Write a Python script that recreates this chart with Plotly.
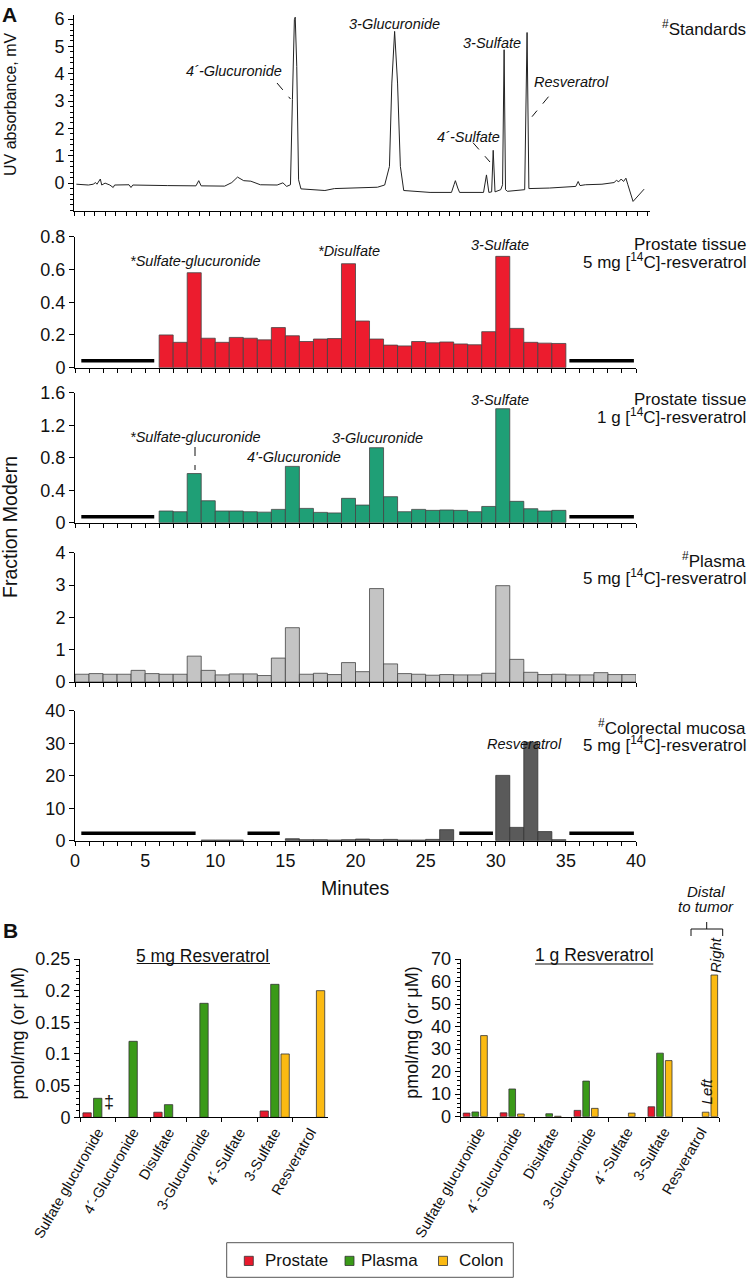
import plotly.graph_objects as go

W, H = 749, 1280
def px(x): return x / W
def py(y): return 1 - y / H

FONT = "Liberation Sans, Arial, sans-serif"

# ---------------- Panel A data ----------------
# UV chromatogram of standards (time units, mV)
uv_time = [0.17, 1.03, 1.37, 1.54, 1.64, 1.88, 1.98, 2.22, 2.56, 2.80, 2.90, 3.93, 4.07, 4.20,
           6.66, 8.71, 8.91, 9.08, 10.76, 11.27, 11.68, 12.12, 12.63, 13.31, 14.51, 14.92,
           15.19, 15.46, 15.60, 15.74, 15.80, 15.91, 16.04, 16.21, 17.92, 18.60, 21.67, 22.19,
           22.53, 22.70, 22.90, 23.11, 23.31, 23.55, 25.43, 26.96, 27.14, 27.24, 27.41, 27.54,
           29.25, 29.46, 29.63, 29.83, 29.94, 30.07, 30.48, 30.61, 30.72, 30.82, 30.96, 32.19,
           32.36, 32.49, 33.96, 35.84, 36.01, 36.14, 36.52, 37.71, 38.57, 38.74, 38.91, 39.08,
           39.25, 39.42, 39.56, 39.93, 40.72]
uv_mv = [-0.04, -0.07, -0.04, 0.02, -0.04, 0.15, -0.07, 0.00, -0.07, -0.16, -0.07, -0.06, -0.16, -0.07,
         -0.09, -0.10, 0.09, -0.10, -0.11, 0.02, 0.22, 0.09, 0.07, -0.06, -0.07, 0.01,
         -0.12, -0.06, 3.05, 5.98, 6.07, 4.27, 0.12, -0.21, -0.27, -0.20, -0.15, -0.07,
         0.61, 3.66, 5.55, 3.66, 0.61, -0.27, -0.34, -0.34, -0.06, 0.09, -0.18, -0.34,
         -0.34, 0.30, -0.34, -0.32, 1.20, -0.32, -0.24, -0.06, 4.88, -0.24, -0.30, -0.24,
         5.51, -0.20, -0.18, -0.12, 0.06, -0.09, -0.06, -0.04, 0.02, 0.10, 0.05, 0.15,
         0.06, 0.18, -0.06, -0.67, -0.22]

# Fraction Modern per 1-min fraction (bin start minute)
prostate_5mg_bins = list(range(6, 35))
prostate_5mg_fm = [0.20, 0.155, 0.58, 0.18, 0.155, 0.185, 0.18, 0.17, 0.245, 0.195, 0.16, 0.175,
                   0.178, 0.635, 0.285, 0.175, 0.138, 0.133, 0.16, 0.152, 0.157, 0.145, 0.14,
                   0.22, 0.68, 0.24, 0.155, 0.15, 0.148]
prostate_1g_bins = list(range(6, 35))
prostate_1g_fm = [0.144, 0.135, 0.605, 0.27, 0.144, 0.144, 0.135, 0.13, 0.164, 0.693, 0.176, 0.127,
                  0.12, 0.30, 0.217, 0.923, 0.32, 0.135, 0.164, 0.152, 0.156, 0.152, 0.135, 0.20,
                  1.403, 0.263, 0.172, 0.144, 0.152]
plasma_bins = list(range(0, 40))
plasma_fm = [0.24, 0.26, 0.24, 0.24, 0.36, 0.26, 0.24, 0.24, 0.80, 0.36, 0.22, 0.25, 0.25, 0.20,
             0.74, 1.68, 0.24, 0.27, 0.23, 0.60, 0.32, 2.89, 0.56, 0.26, 0.24, 0.21, 0.23, 0.22,
             0.22, 0.27, 2.98, 0.70, 0.30, 0.23, 0.24, 0.22, 0.22, 0.29, 0.23, 0.23]
colorectal_bins = [9, 10, 11, 15, 16, 17, 18, 19, 20, 21, 22, 23, 24, 25, 26, 30, 31, 32, 33, 34]
colorectal_fm = [0.2, 0.2, 0.2, 0.6, 0.3, 0.3, 0.2, 0.3, 0.5, 0.3, 0.4, 0.2, 0.2, 0.4, 3.4,
                 20.1, 4.1, 30.3, 2.8, 0.3]

# not-analysed intervals (start, end minute) and the level at which the bar is drawn
prostate_5mg_na = [(0.45, 5.65), (35.25, 39.85)]
prostate_5mg_na_level = 0.043
prostate_1g_na = [(0.45, 5.65), (35.25, 39.85)]
prostate_1g_na_level = 0.074
colorectal_na = [(0.45, 8.6), (12.3, 14.6), (27.4, 29.8), (35.25, 39.85)]
colorectal_na_level = 2.26

minute_labels = [0, 5, 10, 15, 20, 25, 30, 35, 40]

# ---------------- Panel B data ----------------
metabolites = ["Sulfate glucuronide", "4´-Glucuronide", "Disulfate", "3-Glucuronide",
               "4´-Sulfate", "3-Sulfate", "Resveratrol"]
prostate_5mg = [0.007, None, 0.008, None, None, 0.010, None]
plasma_5mg = [0.030, 0.120, 0.020, 0.180, None, 0.210, None]
colon_5mg = [None, None, None, None, None, 0.100, 0.200]
prostate_1g = [1.6, 1.7, None, 2.8, None, 4.4, None]
plasma_1g = [2.1, 12.3, 1.3, 15.8, None, 28.2, None]
colon_1g = [36.0, 1.2, 0.2, 3.7, 1.6, 24.9, 2.0]        # left colon for resveratrol
colon_right_1g = [None, None, None, None, None, None, 62.9]
legend_names = ["Prostate", "Plasma", "Colon"]

RED = "#EC1C2E"
TEAL = "#1F9F76"
GREY = "#C4C4C4"
DARK = "#5A5A5A"
B_RED = "#E8192C"
B_GREEN = "#3A9A18"
B_GOLD = "#FBBA12"

fig = go.Figure()

# UV trace
fig.add_trace(go.Scatter(x=uv_time, y=uv_mv, mode="lines", line=dict(color="#222", width=1),
                         xaxis="x", yaxis="y", showlegend=False, hoverinfo="skip"))

def add_hist(bins, vals, color, n, lc="#444"):
    fig.add_trace(go.Bar(x=[b + 0.5 for b in bins], y=vals, width=[1] * len(bins),
                         marker=dict(color=color, line=dict(color=lc, width=0.8)),
                         xaxis="x%d" % n, yaxis="y%d" % n, showlegend=False))

def add_na(segs, level, n):
    for a, b in segs:
        fig.add_trace(go.Scatter(x=[a, b], y=[level, level], mode="lines",
                                 line=dict(color="black", width=3.5),
                                 xaxis="x%d" % n, yaxis="y%d" % n, showlegend=False,
                                 hoverinfo="skip"))

add_hist(prostate_5mg_bins, prostate_5mg_fm, RED, 2)
add_na(prostate_5mg_na, prostate_5mg_na_level, 2)
add_hist(prostate_1g_bins, prostate_1g_fm, TEAL, 3)
add_na(prostate_1g_na, prostate_1g_na_level, 3)
add_hist(plasma_bins, plasma_fm, GREY, 4)
add_hist(colorectal_bins, colorectal_fm, DARK, 5, "#333")
add_na(colorectal_na, colorectal_na_level, 5)

# Panel B bars
def add_b(vals, name, color, n, center, width):
    fig.add_trace(go.Bar(x=metabolites, y=vals, name=name, width=width, offset=center - width / 2,
                         marker=dict(color=color, line=dict(color="#333", width=0.8)),
                         xaxis="x%d" % n, yaxis="y%d" % n, showlegend=False))

add_b(prostate_5mg, "Prostate", B_RED, 6, -0.30, 0.235)
add_b(plasma_5mg, "Plasma", B_GREEN, 6, 0.0, 0.235)
add_b(colon_5mg, "Colon", B_GOLD, 6, 0.29, 0.235)
add_b(prostate_1g, "Prostate", B_RED, 7, -0.34, 0.18)
add_b(plasma_1g, "Plasma", B_GREEN, 7, -0.105, 0.18)
add_b(colon_1g, "Colon", B_GOLD, 7, 0.13, 0.18)
add_b(colon_right_1g, "Colon", B_GOLD, 7, 0.365, 0.18)

axis_common = dict(showline=True, linecolor="black", linewidth=1, showgrid=False, zeroline=False,
                   ticks="outside", tickcolor="black", automargin=False,
                   tickfont=dict(size=18, color="#111", family=FONT))

layout = dict(
    width=W, height=H, margin=dict(l=0, r=0, t=0, b=0),
    paper_bgcolor="white", plot_bgcolor="white",
    font=dict(family=FONT, color="#111"),
    barmode="overlay",
    showlegend=False,
)

# top UV panel
layout["xaxis"] = dict(axis_common, domain=[px(74), px(650)], range=[0, 41.14], anchor="y",
                       showticklabels=False, tick0=0, dtick=0.745, ticklen=4)
layout["yaxis"] = dict(axis_common, domain=[py(211), py(15)], range=[-1.02, 6.15], anchor="x",
                       tickvals=[0, 1, 2, 3, 4, 5, 6], ticklen=5,
                       minor=dict(dtick=0.2, tick0=0, ticks="outside", ticklen=3, tickcolor="black"))

panels = [(2, 367.7, 236.7, 0.8, [0, 0.2, 0.4, 0.6, 0.8]),
          (3, 522.7, 392.7, 1.6, [0, 0.4, 0.8, 1.2, 1.6]),
          (4, 682.0, 552.7, 4, [0, 1, 2, 3, 4]),
          (5, 840.7, 710.7, 40, [0, 10, 20, 30, 40])]
for n, yb, yt, top, tv in panels:
    layout["xaxis%d" % n] = dict(axis_common, domain=[px(75), px(636)], range=[0, 40],
                                 anchor="y%d" % n, tickvals=minute_labels,
                                 showticklabels=(n == 5), ticklen=4,
                                 minor=dict(dtick=1, tick0=0, ticks="outside", ticklen=4,
                                            tickcolor="black"))
    layout["yaxis%d" % n] = dict(axis_common, domain=[py(yb), py(yt)], range=[0, top],
                                 anchor="x%d" % n, tickvals=tv, ticklen=5)

layout["xaxis6"] = dict(axis_common, domain=[px(80), px(328)], anchor="y6", type="category",
                        tickson="boundaries", ticklen=4, tickangle=-60,
                        tickfont=dict(size=14.5, family=FONT, color="#111"))
layout["yaxis6"] = dict(axis_common, domain=[py(1117.3), py(959)], range=[0, 0.25], anchor="x6",
                        tickvals=[0, 0.05, 0.1, 0.15, 0.2, 0.25], ticklen=5,
                        minor=dict(dtick=0.01, tick0=0, ticks="outside", ticklen=3, tickcolor="black"))
layout["xaxis7"] = dict(axis_common, domain=[px(460.7), px(719.3)], anchor="y7", type="category",
                        tickson="boundaries", ticklen=4, tickangle=-60,
                        tickfont=dict(size=14.5, family=FONT, color="#111"))
layout["yaxis7"] = dict(axis_common, domain=[py(1116.7), py(959)], range=[0, 70], anchor="x7",
                        tickvals=[0, 10, 20, 30, 40, 50, 60, 70], ticklen=5,
                        minor=dict(dtick=2, tick0=0, ticks="outside", ticklen=3, tickcolor="black"))

fig.update_layout(**layout)

ann = []
def T(x, y, text, size=14.5, xanchor="center", angle=0, italic=False, bold=False):
    t = text
    if italic:
        t = "<i>%s</i>" % t
    if bold:
        t = "<b>%s</b>" % t
    ann.append(dict(x=px(x), y=py(y), xref="paper", yref="paper", text=t, showarrow=False,
                    xanchor=xanchor, yanchor="middle", textangle=angle,
                    font=dict(size=size, family=FONT, color="#111")))

T(9, 14, "A", 21, bold=True)
T(10, 930, "B", 21, bold=True)
T(10, 104, "UV absorbance, mV", 16, angle=-90)
T(10, 527, "Fraction Modern", 19.5, angle=-90)
T(355.5, 888, "Minutes", 19.5)

# top panel labels
T(234, 71, "4´-Glucuronide", italic=True)
T(394, 24, "3-Glucuronide", italic=True)
T(492, 43, "3-Sulfate", italic=True)
T(571, 82, "Resveratrol", italic=True)
T(468, 137, "4´-Sulfate", italic=True)
T(748, 28, "<sup>#</sup>Standards", 17, xanchor="right")

T(196, 261, "*Sulfate-glucuronide", italic=True)
T(349, 251, "*Disulfate", italic=True)
T(500, 245, "3-Sulfate", italic=True)
T(748, 244, "Prostate tissue", 17, xanchor="right")
T(748, 261, "5 mg [<sup>14</sup>C]-resveratrol", 17, xanchor="right")

T(196, 437, "*Sulfate-glucuronide", italic=True)
T(294, 457, "4'-Glucuronide", italic=True)
T(377.5, 438, "3-Glucuronide", italic=True)
T(500, 400, "3-Sulfate", italic=True)
T(748, 399, "Prostate tissue", 17, xanchor="right")
T(748, 416, "1 g [<sup>14</sup>C]-resveratrol", 17, xanchor="right")

T(748, 560, "<sup>#</sup>Plasma", 17, xanchor="right")
T(748, 577, "5 mg [<sup>14</sup>C]-resveratrol", 17, xanchor="right")

T(748, 727, "<sup>#</sup>Colorectal mucosa", 17, xanchor="right")
T(748, 744, "5 mg [<sup>14</sup>C]-resveratrol", 17, xanchor="right")
T(524, 744, "Resveratrol", italic=True)

# panel B
T(203, 956, "5 mg Resveratrol", 17.5)
T(594, 955, "1 g Resveratrol", 17.5)
T(17.5, 1034, "pmol/mg (or μM)", 18, angle=-90)
T(411.7, 1033, "pmol/mg (or μM)", 18, angle=-90)
T(109, 1102, "‡", 18)
T(705.7, 891.7, "Distal", 15, italic=True)
T(705.7, 906.7, "to tumor", 15, italic=True)
T(715, 955, "Right", 15, angle=-90, italic=True)
T(706.7, 1091.7, "Left", 15, angle=-90, italic=True)

shapes = []
def L(x0, y0, x1, y1, dash="solid", w=1):
    shapes.append(dict(type="line", xref="paper", yref="paper", x0=px(x0), y0=py(y0),
                       x1=px(x1), y1=py(y1), line=dict(color="#111", width=w, dash=dash)))

L(277, 83, 290.5, 99, "dash")
L(548.5, 96.7, 532, 116.7, "dash")
L(473, 142.7, 490, 162, "dash")
L(195, 447, 195, 470, "dash")
# underlines
L(136.7, 963.5, 270, 963.5)
L(535, 964, 653.3, 964)
# bracket
L(691, 929, 722.7, 929)
L(691, 929, 691, 936)
L(722.7, 929, 722.7, 936)
L(706.7, 929, 706.7, 922)

# legend box (drawn)
shapes.append(dict(type="rect", xref="paper", yref="paper", x0=px(226.7), x1=px(513.3),
                   y0=py(1277.3), y1=py(1242.7), line=dict(color="#555", width=1),
                   fillcolor="white"))
legend_sq_x = [248.8, 349.5, 443.0]
legend_txt_x = [263.3, 359.3, 456.7]
for name, col, sx, tx in zip(legend_names, [B_RED, B_GREEN, B_GOLD], legend_sq_x, legend_txt_x):
    shapes.append(dict(type="rect", xref="paper", yref="paper", x0=px(sx - 4.5), x1=px(sx + 4.5),
                       y0=py(1265.5), y1=py(1256.3), line=dict(color="#333", width=0.8),
                       fillcolor=col))
    ann.append(dict(x=px(tx), y=py(1260.7), xref="paper", yref="paper", text=name,
                    showarrow=False, xanchor="left", yanchor="middle",
                    font=dict(size=17, family=FONT, color="#111")))

fig.update_layout(annotations=ann, shapes=shapes)
fig.write_html("out.html", config={"displayModeBar": False},
               post_script="document.body.style.margin='0';document.body.style.overflow='hidden';")
